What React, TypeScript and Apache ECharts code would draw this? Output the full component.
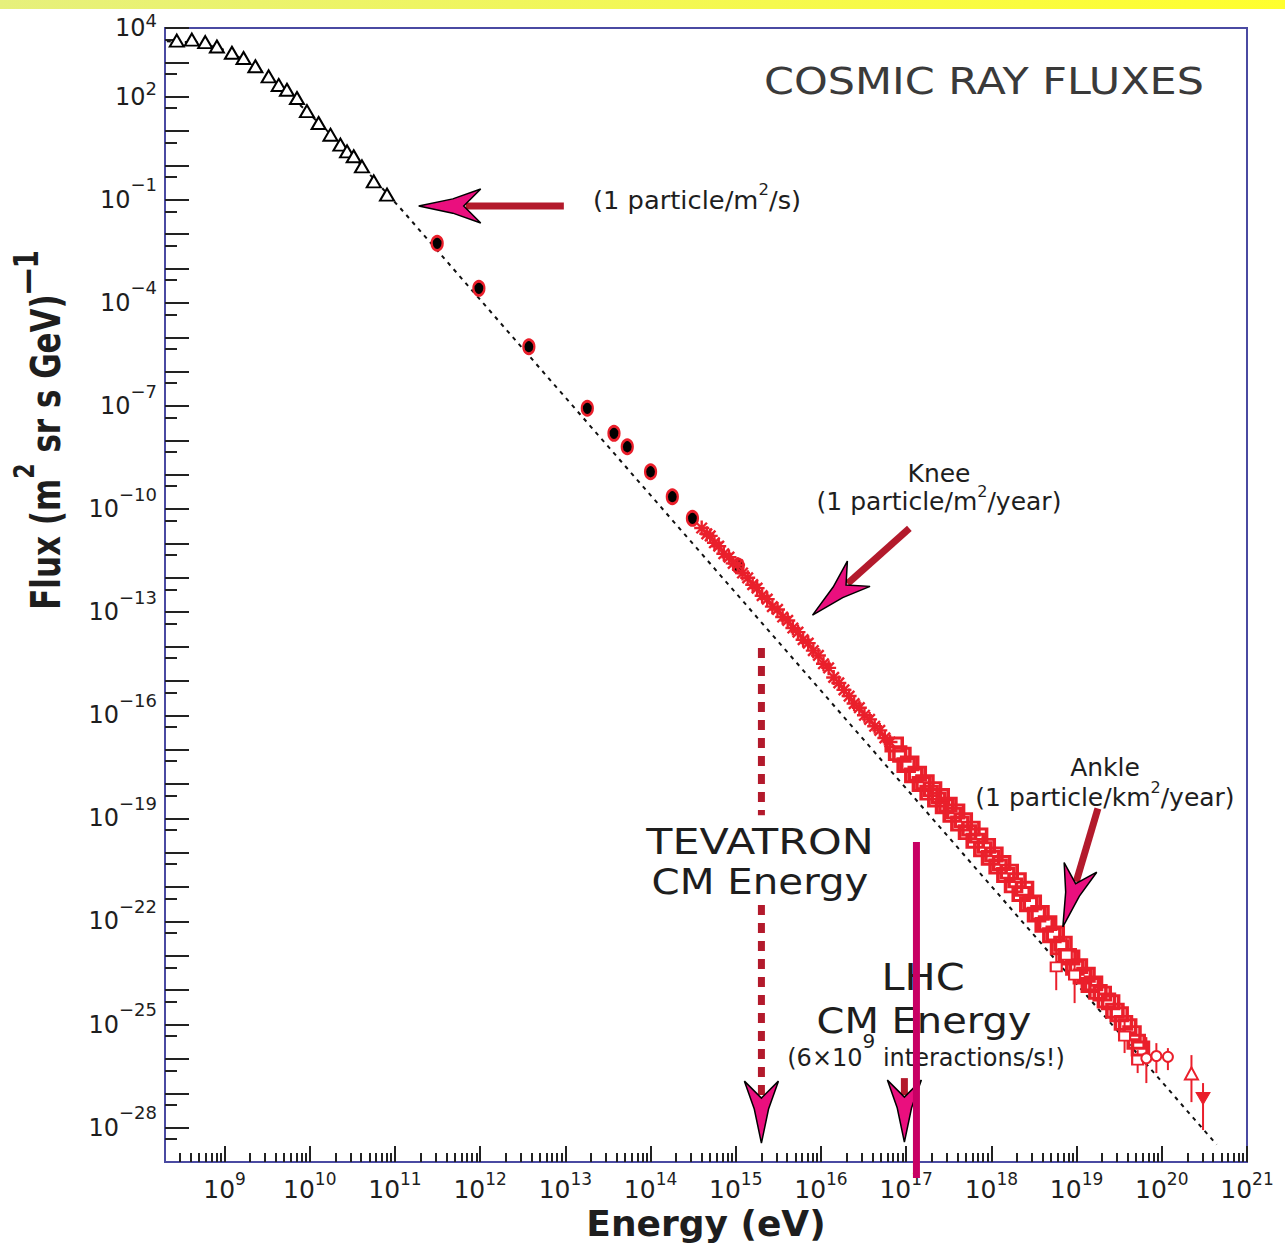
import { useEffect, useRef } from 'react';
import * as echarts from 'echarts';

// ---------- measured spectrum (energy in eV, flux in (m^2 sr s GeV)^-1) ----------

// Low-energy data (open triangles)
const LOW_E = [2.75e8, 4.13e8, 5.93e8, 8.13e8, 1.22e9, 1.67e9, 2.3e9, 3.29e9, 4.32e9, 5.4e9, 7.08e9, 9.27e9, 1.27e10, 1.75e10, 2.29e10, 2.74e10, 3.28e10, 4.1e10, 5.64e10, 8.07e10];
const LOW_F = [4.3e3, 4.6e3, 3.9e3, 2.9e3, 1.9e3, 1.34e3, 770, 390, 220, 160, 92, 38, 17.2, 7.85, 4.02, 2.58, 1.85, 0.94, 0.345, 0.141];

// Direct measurements (black points)
const MID_E = [3.13e11, 9.66e11, 3.73e12, 1.81e13, 3.72e13, 5.33e13, 1.0e14, 1.8e14, 3.1e14, 1.07e15];
const MID_F = [5.42e-3, 2.65e-4, 5.31e-6, 8.55e-8, 1.6e-8, 6.52e-9, 1.22e-9, 2.29e-10, 5.37e-11, 2.2e-12];

// Air-shower data around the knee (red stars)
const KNEE_E = [3.98e14, 4.57e14, 5.01e14, 5.62e14, 6.31e14, 7.24e14, 8.32e14, 9.33e14, 1.05e15, 1.2e15, 1.38e15, 1.58e15, 1.78e15, 2.04e15, 2.34e15, 2.69e15, 3.09e15, 3.55e15, 4.07e15, 4.68e15, 5.37e15, 6.17e15, 7.08e15, 8.13e15, 9.33e15, 1.07e16, 1.23e16, 1.41e16, 1.62e16, 1.86e16, 2.14e16, 2.45e16, 2.82e16, 3.24e16, 3.72e16, 4.27e16, 4.9e16, 5.62e16, 6.46e16];
const KNEE_F = [2.82e-11, 1.91e-11, 1.66e-11, 1.05e-11, 8.32e-12, 5.01e-12, 3.98e-12, 2.63e-12, 2.4e-12, 1.38e-12, 1.0e-12, 6.31e-13, 5.01e-13, 3.02e-13, 2.4e-13, 1.45e-13, 1.2e-13, 7.24e-14, 5.75e-14, 3.47e-14, 2.63e-14, 1.58e-14, 1.26e-14, 7.59e-15, 5.5e-15, 3.16e-15, 2.4e-15, 1.26e-15, 8.71e-16, 5.5e-16, 3.63e-16, 2.19e-16, 1.66e-16, 1.0e-16, 7.59e-17, 4.79e-17, 3.63e-17, 2.19e-17, 1.66e-17];

// Air-shower data above the knee up to the ankle (red open boxes)
const HIGH_E = [7.24e16, 7.94e16, 8.91e16, 1.0e17, 1.1e17, 1.23e17, 1.35e17, 1.51e17, 1.66e17, 1.86e17, 2.04e17, 2.29e17, 2.51e17, 2.82e17, 3.09e17, 3.47e17, 3.8e17, 4.27e17, 4.68e17, 5.25e17, 5.75e17, 6.46e17, 7.08e17, 7.94e17, 8.71e17, 9.77e17, 1.07e18, 1.2e18, 1.32e18, 1.48e18, 1.62e18, 1.82e18, 2.0e18, 2.24e18, 2.45e18, 2.75e18, 3.02e18, 3.39e18, 3.72e18, 4.17e18, 4.57e18, 5.13e18, 5.62e18, 6.31e18, 6.92e18, 7.76e18, 8.51e18, 9.55e18, 1.05e19, 1.17e19, 1.29e19, 1.45e19, 1.58e19, 1.78e19, 2.0e19, 2.24e19, 2.51e19, 2.82e19, 3.16e19, 3.55e19, 3.98e19, 4.47e19, 5.01e19, 5.62e19];
const HIGH_F = [1.41e-17, 7.94e-18, 7.08e-18, 3.55e-18, 3.98e-18, 1.78e-18, 2.0e-18, 1.0e-18, 1.12e-18, 5.62e-19, 7.08e-19, 3.55e-19, 4.47e-19, 2.24e-19, 2.51e-19, 1.26e-19, 1.58e-19, 7.08e-20, 8.91e-20, 3.98e-20, 5.01e-20, 2.24e-20, 3.16e-20, 1.26e-20, 1.58e-20, 7.08e-21, 8.91e-21, 3.98e-21, 5.01e-21, 2.24e-21, 2.82e-21, 1.12e-21, 1.58e-21, 6.31e-22, 8.91e-22, 3.16e-22, 3.55e-22, 1.58e-22, 1.78e-22, 7.94e-23, 8.91e-23, 3.98e-23, 4.47e-23, 1.78e-23, 2.24e-23, 1.0e-23, 8.91e-24, 4.47e-24, 5.01e-24, 2.51e-24, 2.82e-24, 1.41e-24, 1.58e-24, 8.91e-25, 7.94e-25, 5.01e-25, 4.47e-25, 2.51e-25, 2.0e-25, 1.12e-25, 8.91e-26, 5.62e-26, 3.16e-26, 2.0e-26];

// Highest-energy points with error bars
const ERR_E = [5.77e18, 7.57e18, 9.48e18, 3.66e19, 5.21e19, 6.59e19, 8.64e19, 1.18e20, 2.23e20, 3.05e20];
const ERR_F = [4.79e-24, 1.05e-23, 2.75e-24, 4.61e-26, 9.2e-27, 1.05e-26, 1.21e-26, 1.15e-26, 3.78e-27, 7.08e-28];
const ERR_HI = [3.31e-23, 3.28e-23, 1.47e-23, 1.35e-25, 1.8e-26, 4.31e-26, 2.88e-26, 2.06e-26, 1.29e-26, 1.98e-27];
const ERR_LO = [1.0e-24, 3.15e-24, 4.21e-25, 1.48e-26, 3.87e-27, 1.98e-27, 3.87e-27, 4.72e-27, 5.53e-28, 8.5e-29];
const ERR_KIND = ['box', 'box', 'box', 'box', 'box', 'circle', 'circle', 'circle', 'up', 'down'];

// Reference power law (dashed)
const FIT_E = [2.1e8, 5.0e8, 1.0e9, 2.0e9, 4.0e9, 1.0e10, 3.0e10, 1.27e11, 4.4e20];
const FIT_F = [4.1e3, 3.8e3, 2.3e3, 980, 263, 31, 2.3, 4.4e-2, 3.2e-29];

// Annotation arrows: tail -> tip (1 particle/m2/s, knee, ankle, Tevatron, LHC)
const ARROW_TAIL_E = [9.6e12, 1.09e17, 1.78e19, 2.0e15, 9.53e16];
const ARROW_TAIL_F = [6.6e-2, 2.75e-11, 1.95e-19, 2.99e-22, 2.76e-27];
const ARROW_TIP_E = [1.9e11, 7.96e15, 6.9e18, 2.0e15, 9.53e16];
const ARROW_TIP_F = [6.6e-2, 8.24e-14, 6.98e-23, 3.54e-29, 3.79e-29];
const ARROW_DASHED = [0, 0, 0, 1, 0];

// Collider CM-energy markers (Tevatron upper dashed segment, LHC line)
const VLINE_E = [2.0e15, 1.32e17];
const VLINE_TOP = [9.0e-15, 2.04e-20];
const VLINE_BOTTOM = [1.24e-19, 3.4e-30];
const VLINE_SOLID = [0, 1];

// Axis ranges, ticks and labels
const X_MIN = 2e8;
const X_MAX = 1.0005e21;
const Y_MIN = 1e-29;
const Y_MAX = 1e4;
const X_LABELS = [1e9, 1e10, 1e11, 1e12, 1e13, 1e14, 1e15, 1e16, 1e17, 1e18, 1e19, 1e20, 1e21];
const Y_LABELS = [1e4, 1e2, 1e-1, 1e-4, 1e-7, 1e-10, 1e-13, 1e-16, 1e-19, 1e-22, 1e-25, 1e-28];
const X_DECADES = [9, 10, 11, 12, 13, 14, 15, 16, 17, 18, 19, 20, 21];
const Y_DECADES = [4, 3, 2, 1, 0, -1, -2, -3, -4, -5, -6, -7, -8, -9, -10, -11, -12, -13, -14, -15, -16, -17, -18, -19, -20, -21, -22, -23, -24, -25, -26, -27, -28];

const FONT = 'DejaVu Sans';
const INK = '#1e1e1e';
const RED = '#ea1f2b';
const SHAFT = '#b31a2c';
const PINK = '#ea0f7e';
const LHC_COLOR = '#c80064';
const FRAME = '#4a4aa2';

const xMajor = X_DECADES.map((n) => Math.pow(10, n));
const xMinor: number[] = [];
for (let n = 8; n <= 20; n++) {
  for (let m = 2; m <= 9; m++) {
    const v = m * Math.pow(10, n);
    if (v > 2.5e8 && v < 1e21) xMinor.push(v);
  }
}
const yMajor = Y_DECADES.map((n) => Math.pow(10, n));
const yMinor = Y_DECADES.map((n) => Math.pow(10, n - 1 / 3));

const pairs = (xs: number[], ys: number[]) => xs.map((x, i) => [x, ys[i]]);

const expLabel = (v: number, negStyle: string, posStyle: string) => {
  const n = Math.round(Math.log10(v));
  const s = n < 0 ? '\u2212' + String(-n) : String(n);
  return `{b|10}{${n < 0 ? negStyle : posStyle}|${s}}`;
};

const HEAD_LEN = 62;
const HEAD_W = 17;
const HEAD_NOTCH = 45;

const arrowItem = (_params: any, api: any) => {
  const tail = api.coord([api.value(0), api.value(1)]);
  const tip = api.coord([api.value(2), api.value(3)]);
  const dashed = api.value(4) === 1;
  const dx = tip[0] - tail[0];
  const dy = tip[1] - tail[1];
  const len = Math.hypot(dx, dy) || 1;
  const ux = dx / len;
  const uy = dy / len;
  const nx = -uy;
  const ny = ux;
  const at = (back: number, side: number) => [tip[0] - ux * back + nx * side, tip[1] - uy * back + ny * side];
  const shaftEnd = at(HEAD_NOTCH + 2, 0);
  const shaftStyle: any = { stroke: SHAFT, lineWidth: 7 };
  if (dashed) shaftStyle.lineDash = [10, 8];
  return {
    type: 'group',
    children: [
      { type: 'line', shape: { x1: tail[0], y1: tail[1], x2: shaftEnd[0], y2: shaftEnd[1] }, style: shaftStyle },
      {
        type: 'polygon',
        shape: {
          points: [
            at(0, 0),
            at(HEAD_LEN * 0.55, HEAD_W * 0.42),
            at(HEAD_LEN, HEAD_W),
            at(HEAD_NOTCH, 0),
            at(HEAD_LEN, -HEAD_W),
            at(HEAD_LEN * 0.55, -HEAD_W * 0.42),
          ],
        },
        style: { fill: PINK, stroke: '#000', lineWidth: 1.5 },
      },
    ],
  };
};

const vlineItem = (_params: any, api: any) => {
  const e = api.value(0);
  const top = api.coord([e, api.value(1)]);
  const bot = api.coord([e, api.value(2)]);
  const solid = api.value(3) === 1;
  const style: any = { stroke: solid ? LHC_COLOR : SHAFT, lineWidth: 7 };
  if (!solid) style.lineDash = [10, 8];
  return { type: 'line', shape: { x1: top[0], y1: top[1], x2: bot[0], y2: bot[1] }, style };
};

const errItem = (_params: any, api: any) => {
  const e = api.value(0);
  const lo = api.coord([e, api.value(2)]);
  const hi = api.coord([e, api.value(3)]);
  return { type: 'line', shape: { x1: lo[0], y1: lo[1], x2: hi[0], y2: hi[1] }, style: { stroke: RED, lineWidth: 2 } };
};

const noteRich = (size: number, supSize: number, raise: number) => ({
  a: { fontSize: size, lineHeight: size + 2, fontFamily: FONT, fill: INK },
  s: { fontSize: supSize, lineHeight: size + 2, padding: [0, 0, raise * 2, 0], fontFamily: FONT, fill: INK },
});

const text = (x: number, y: number, str: string, o: any = {}) => ({
  type: 'text',
  x,
  y,
  z: 3,
  scaleX: o.sx ?? 1,
  scaleY: o.sy ?? 1,
  rotation: o.rot ?? 0,
  style: {
    text: str,
    fontFamily: o.ff ?? FONT,
    fontSize: o.fs ?? 25,
    fontWeight: o.fw ?? 'normal',
    fill: o.color ?? INK,
    align: o.align ?? 'center',
    textAlign: o.align ?? 'center',
    verticalAlign: 'middle',
    textVerticalAlign: 'middle',
    lineHeight: o.lh ?? (o.fs ?? 25) + 2,
    rich: o.rich,
  },
});

const tickAxis = (values: number[], length: number, width: number) => ({
  show: true,
  inside: true,
  length,
  customValues: values,
  lineStyle: { color: '#222', width },
});

export default function App() {
  const ref = useRef<HTMLDivElement>(null);

  useEffect(() => {
    if (!ref.current) return;
    const chart = echarts.init(ref.current, undefined, { renderer: 'svg' });

    const xBase = {
      type: 'log',
      gridIndex: 0,
      position: 'bottom',
      min: X_MIN,
      max: X_MAX,
      axisLine: { show: false },
      splitLine: { show: false },
      minorTick: { show: false },
    };
    const yBase = {
      type: 'log',
      gridIndex: 0,
      position: 'left',
      min: Y_MIN,
      max: Y_MAX,
      axisLine: { show: false },
      splitLine: { show: false },
      minorTick: { show: false },
    };

    const option: any = {
      animation: false,
      backgroundColor: '#ffffff',
      textStyle: { fontFamily: FONT },
      grid: {
        left: 165,
        top: 28,
        width: 1082,
        height: 1134,
        show: true,
        borderColor: FRAME,
        borderWidth: 2,
        backgroundColor: 'transparent',
        containLabel: false,
        outerBoundsMode: 'none',
      },
      xAxis: [
        {
          ...xBase,
          axisTick: tickAxis(xMajor, 16, 2),
          axisLabel: {
            show: true,
            customValues: X_LABELS,
            margin: 15,
            lineHeight: 25,
            fontFamily: FONT,
            color: INK,
            formatter: (v: number) => expLabel(v, 'e', 'e'),
            rich: {
              b: { fontSize: 25, lineHeight: 25, fontFamily: FONT, color: INK },
              e: { fontSize: 17, lineHeight: 25, padding: [0, 0, 22, 0], fontFamily: FONT, color: INK },
            },
          },
        },
        {
          ...xBase,
          axisTick: tickAxis(xMinor, 9, 2),
          axisLabel: { show: false },
        },
      ],
      yAxis: [
        {
          ...yBase,
          axisTick: tickAxis(yMajor, 24, 2),
          axisLabel: {
            show: true,
            customValues: Y_LABELS,
            margin: 8,
            lineHeight: 24,
            fontFamily: FONT,
            color: INK,
            formatter: (v: number) => expLabel(v, 'n', 'p'),
            rich: {
              b: { fontSize: 24, lineHeight: 24, fontFamily: FONT, color: INK },
              n: { fontSize: 18, lineHeight: 24, padding: [0, 0, 30, 0], fontFamily: FONT, color: INK },
              p: { fontSize: 18, lineHeight: 24, padding: [0, 0, 16, 0], fontFamily: FONT, color: INK },
            },
          },
        },
        {
          ...yBase,
          axisTick: tickAxis(yMinor, 12, 2),
          axisLabel: { show: false },
        },
      ],
      graphic: [
        {
          type: 'rect',
          x: 0,
          y: 0,
          z: 0,
          shape: { x: 0, y: 0, width: 1285, height: 9 },
          style: {
            fill: new echarts.graphic.LinearGradient(0, 0, 1, 0, [
              { offset: 0, color: '#e6f07c' },
              { offset: 1, color: '#ffff2e' },
            ]),
          },
        },
        text(984, 81, 'COSMIC RAY FLUXES', { fs: 38, sx: 1.13, color: '#3a3a3a' }),
        text(593, 200, '{a|(1 particle/m}{s|2}{a|/s)}', { align: 'left', sx: 1.03, rich: noteRich(25, 16, 10) }),
        text(939, 473, 'Knee', { fs: 25 }),
        text(939, 501, '{a|(1 particle/m}{s|2}{a|/year)}', { rich: noteRich(25, 16, 10) }),
        text(1105, 767, 'Ankle', { fs: 25 }),
        text(1105, 797, '{a|(1 particle/km}{s|2}{a|/year)}', { rich: noteRich(25, 16, 10) }),
        text(760, 841, 'TEVATRON', { fs: 36, sx: 1.19 }),
        text(760, 882, 'CM Energy', { fs: 36, sx: 1.12 }),
        text(923, 977, 'LHC', { fs: 37, sx: 1.12 }),
        text(924, 1021, 'CM Energy', { fs: 36, sx: 1.11 }),
        text(926, 1058, '{a|(6\u00d710}{s|9}{a| interactions/s!)}', { rich: noteRich(24, 20, 17) }),
        text(706, 1223, 'Energy (eV)', { fs: 36, fw: 'bold', lh: 30 }),
        text(46, 430, '{t|Flux (m}{s|2}{t| sr s GeV)}{e|\u20141}', {
          rot: Math.PI / 2,
          sy: 1.3,
          rich: {
            t: { fontSize: 31, fontWeight: 'bold', lineHeight: 32, fontFamily: FONT, fill: INK },
            s: { fontSize: 22, fontWeight: 'bold', lineHeight: 32, padding: [0, 0, 34, 0], fontFamily: FONT, fill: INK },
            e: { fontSize: 26, fontWeight: 'bold', lineHeight: 32, padding: [0, 0, 30, 0], fontFamily: FONT, fill: INK },
          },
        }),
      ],
      series: [
        {
          name: 'power law',
          type: 'line',
          data: pairs(FIT_E, FIT_F),
          showSymbol: false,
          symbol: 'none',
          silent: true,
          z: 2,
          lineStyle: { color: '#111', width: 2, type: [4, 5] },
        },
        {
          name: 'low energy',
          type: 'scatter',
          data: pairs(LOW_E, LOW_F),
          symbol: 'triangle',
          symbolSize: [14, 12],
          z: 3,
          itemStyle: { color: '#ffffff', borderColor: '#000', borderWidth: 2, opacity: 1 },
        },
        {
          name: 'direct',
          type: 'scatter',
          data: pairs(MID_E, MID_F),
          symbol: 'circle',
          symbolSize: [11, 14],
          z: 4,
          itemStyle: { color: '#000', borderColor: RED, borderWidth: 2.5, opacity: 1 },
        },
        {
          name: 'knee',
          type: 'scatter',
          data: pairs(KNEE_E, KNEE_F),
          symbol: 'path://M0 6H12M6 0V12M1.8 1.8L10.2 10.2M1.8 10.2L10.2 1.8',
          symbolSize: [15, 15],
          z: 4,
          itemStyle: { color: 'rgba(0,0,0,0)', borderColor: RED, borderWidth: 2.4, opacity: 1 },
        },
        {
          name: 'above knee',
          type: 'scatter',
          data: pairs(HIGH_E, HIGH_F),
          symbol: 'rect',
          symbolSize: [16, 13],
          z: 4,
          itemStyle: { color: 'rgba(0,0,0,0)', borderColor: RED, borderWidth: 3.2, opacity: 1 },
        },
        {
          name: 'error bars',
          type: 'custom',
          data: ERR_E.map((e, i) => [e, ERR_F[i], ERR_LO[i], ERR_HI[i]]),
          renderItem: errItem,
          z: 4,
          silent: true,
        },
        {
          name: 'ankle boxes',
          type: 'scatter',
          data: ERR_E.map((e, i) => [e, ERR_F[i]]).filter((_, i) => ERR_KIND[i] === 'box'),
          symbol: 'rect',
          symbolSize: [11, 9],
          z: 5,
          itemStyle: { color: '#fff', borderColor: RED, borderWidth: 2, opacity: 1 },
        },
        {
          name: 'ankle circles',
          type: 'scatter',
          data: ERR_E.map((e, i) => [e, ERR_F[i]]).filter((_, i) => ERR_KIND[i] === 'circle'),
          symbol: 'circle',
          symbolSize: 10,
          z: 5,
          itemStyle: { color: '#fff', borderColor: RED, borderWidth: 2, opacity: 1 },
        },
        {
          name: 'open triangle',
          type: 'scatter',
          data: ERR_E.map((e, i) => [e, ERR_F[i]]).filter((_, i) => ERR_KIND[i] === 'up'),
          symbol: 'triangle',
          symbolSize: [13, 12],
          z: 5,
          itemStyle: { color: '#fff', borderColor: RED, borderWidth: 2, opacity: 1 },
        },
        {
          name: 'filled triangle',
          type: 'scatter',
          data: ERR_E.map((e, i) => [e, ERR_F[i]]).filter((_, i) => ERR_KIND[i] === 'down'),
          symbol: 'triangle',
          symbolRotate: 180,
          symbolSize: [14, 12],
          z: 5,
          itemStyle: { color: RED, borderColor: RED, borderWidth: 1, opacity: 1 },
        },
        {
          name: 'arrows',
          type: 'custom',
          data: ARROW_TAIL_E.map((e, i) => [e, ARROW_TAIL_F[i], ARROW_TIP_E[i], ARROW_TIP_F[i], ARROW_DASHED[i]]),
          renderItem: arrowItem,
          clip: false,
          z: 6,
          silent: true,
        },
        {
          name: 'collider energies',
          type: 'custom',
          data: VLINE_E.map((e, i) => [e, VLINE_TOP[i], VLINE_BOTTOM[i], VLINE_SOLID[i]]),
          renderItem: vlineItem,
          clip: false,
          z: 10,
          silent: true,
        },
      ],
    };

    chart.setOption(option);
    return () => chart.dispose();
  }, []);

  return (
    <div
      ref={ref}
      style={{ position: 'absolute', left: 0, top: 0, width: 1285, height: 1243, background: '#ffffff' }}
    />
  );
}
